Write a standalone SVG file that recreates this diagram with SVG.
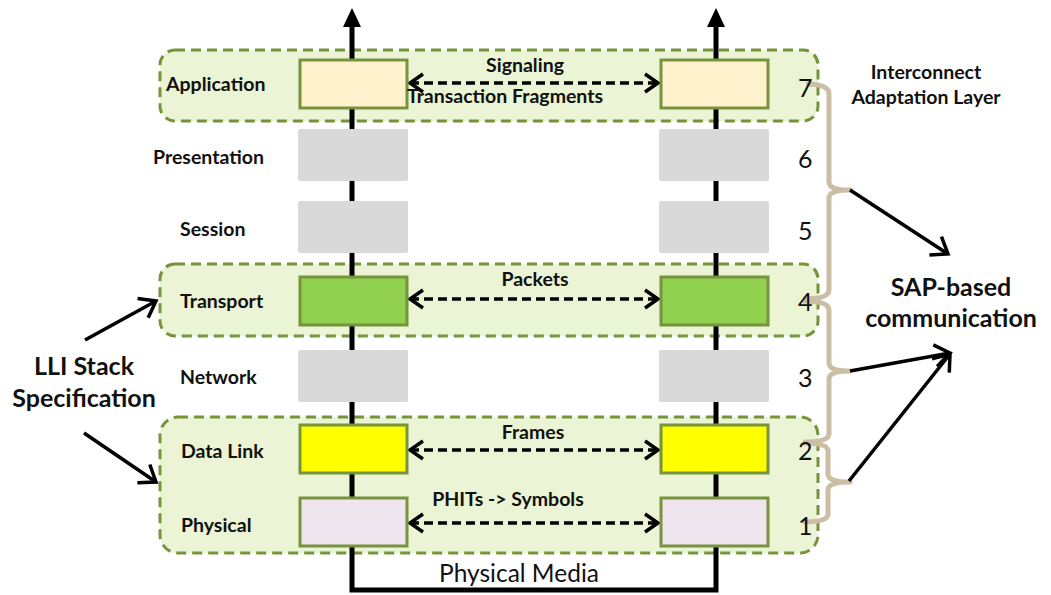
<svg xmlns="http://www.w3.org/2000/svg" width="1051" height="595" viewBox="0 0 1051 595">
  <style>
    .grp { fill: #EBF4D4; stroke: #77933C; stroke-width: 3; stroke-dasharray: 10 6; }
    .box { stroke: #77933C; stroke-width: 3; }
    .gray { fill: #D9D9D9; }
    .axis { stroke: #000; stroke-width: 5; fill: none; }
    .lbl { font-family: Lato, "Open Sans", sans-serif; font-weight: bold; font-size: 19.5px; fill: #111; }
    .num { font-family: Lato, "Open Sans", sans-serif; font-size: 25px; fill: #111; }
    .mid { font-family: Lato, "Open Sans", sans-serif; font-weight: bold; font-size: 19.5px; fill: #111; text-anchor: middle; }
    .big { font-family: Lato, "Open Sans", sans-serif; font-weight: bold; font-size: 25px; fill: #111; text-anchor: middle; }
    .dash { stroke: #000; stroke-width: 3.5; stroke-dasharray: 9 5; fill: none; }
    .solid { stroke: #000; stroke-width: 3.5; fill: none; }
    .brace { stroke: #CCBEA4; stroke-width: 5; fill: none; stroke-linejoin: round; }
  </style>
  <defs>
    <marker id="chev" markerUnits="userSpaceOnUse" viewBox="-18 -14 22 28" refX="0" refY="0" markerWidth="22" markerHeight="28" orient="auto-start-reverse">
      <path d="M-13,-9 L0,0 L-13,9" fill="none" stroke="#000" stroke-width="3.5"/>
    </marker>
    <marker id="chevBig" markerUnits="userSpaceOnUse" viewBox="-20 -16 24 32" refX="0" refY="0" markerWidth="24" markerHeight="32" orient="auto">
      <path d="M-15,-11 L0,0 L-15,11" fill="none" stroke="#000" stroke-width="3.5"/>
    </marker>
  </defs>

  <!-- dashed layer groups -->
  <g id="group-application"><rect class="grp" x="160" y="50" width="658" height="71" rx="15"/></g>
  <g id="group-transport"><rect class="grp" x="160" y="264" width="658" height="72" rx="15"/></g>
  <g id="group-lower"><rect class="grp" x="160" y="417" width="658" height="136" rx="18"/></g>

  <!-- protocol stacks: vertical axes joined by physical media -->
  <g id="connectors">
    <path class="axis" d="M352,24 V590 H716 V24"/>
    <polygon points="352,8 343,27 361,27" fill="#000"/>
    <polygon points="716,8 707,27 725,27" fill="#000"/>

    <!-- peer-to-peer exchanges -->
    <line class="dash" x1="410" y1="83" x2="658" y2="83" marker-start="url(#chev)" marker-end="url(#chev)"/>
    <line class="dash" x1="410" y1="299" x2="658" y2="299" marker-start="url(#chev)" marker-end="url(#chev)"/>
    <line class="dash" x1="410" y1="450" x2="658" y2="450" marker-start="url(#chev)" marker-end="url(#chev)"/>
    <line class="dash" x1="410" y1="523" x2="658" y2="523" marker-start="url(#chev)" marker-end="url(#chev)"/>

    <!-- LLI stack pointers -->
    <line class="solid" x1="85" y1="340" x2="156" y2="301" marker-end="url(#chevBig)"/>
    <line class="solid" x1="84" y1="433" x2="156" y2="482" marker-end="url(#chevBig)"/>

    <!-- braces grouping layers -->
    <path class="brace" d="M806,84 Q829,84 829,94 L829,182 Q829,190 850,190 Q829,190 829,198 L829,290 Q829,299 803,299"/>
    <path class="brace" d="M803,301 Q829,301 829,310 L829,363 Q829,371 850,371 Q829,371 829,379 L829,434 Q829,442 803,442"/>
    <path class="brace" d="M803,443 Q828,443 828,451 L828,474 Q828,482 850,482 Q828,482 828,490 L828,514 Q828,522 803,522"/>

    <!-- SAP pointers -->
    <line class="solid" x1="850" y1="190" x2="948" y2="254" marker-end="url(#chevBig)"/>
    <line class="solid" x1="850" y1="371" x2="950" y2="353" marker-end="url(#chevBig)"/>
    <line class="solid" x1="849" y1="481" x2="950" y2="354" marker-end="url(#chevBig)"/>
  </g>

  <!-- layer boxes, left stack -->
  <g id="app-left"><rect class="box" x="300" y="60" width="107" height="48" fill="#FFF2CC"/></g>
  <g id="pres-left"><rect class="gray" x="298" y="129" width="110" height="52" rx="2"/></g>
  <g id="sess-left"><rect class="gray" x="298" y="201" width="110" height="52" rx="2"/></g>
  <g id="trans-left"><rect class="box" x="300" y="277" width="107" height="48" fill="#92D050"/></g>
  <g id="net-left"><rect class="gray" x="298" y="350" width="110" height="52" rx="2"/></g>
  <g id="dl-left"><rect class="box" x="300" y="425" width="107" height="48" fill="#FFFF00"/></g>
  <g id="phy-left"><rect class="box" x="300" y="498" width="107" height="48" fill="#EFE5EF"/></g>

  <!-- layer boxes, right stack -->
  <g id="app-right"><rect class="box" x="661" y="60" width="107" height="48" fill="#FFF2CC"/></g>
  <g id="pres-right"><rect class="gray" x="659" y="129" width="110" height="52" rx="2"/></g>
  <g id="sess-right"><rect class="gray" x="659" y="201" width="110" height="52" rx="2"/></g>
  <g id="trans-right"><rect class="box" x="661" y="277" width="107" height="48" fill="#92D050"/></g>
  <g id="net-right"><rect class="gray" x="659" y="350" width="110" height="52" rx="2"/></g>
  <g id="dl-right"><rect class="box" x="661" y="425" width="107" height="48" fill="#FFFF00"/></g>
  <g id="phy-right"><rect class="box" x="661" y="498" width="107" height="48" fill="#EFE5EF"/></g>

  <!-- layer names -->
  <g id="layer-names">
    <text class="lbl" x="166" y="91">Application</text>
    <text class="lbl" x="153" y="164">Presentation</text>
    <text class="lbl" x="180" y="236">Session</text>
    <text class="lbl" x="180" y="308">Transport</text>
    <text class="lbl" x="180" y="384">Network</text>
    <text class="lbl" x="181" y="458">Data Link</text>
    <text class="lbl" x="181" y="532">Physical</text>
  </g>

  <!-- layer numbers -->
  <g id="layer-numbers">
    <text class="num" x="798" y="97">7</text>
    <text class="num" x="798" y="168">6</text>
    <text class="num" x="798" y="240">5</text>
    <text class="num" x="798" y="311">4</text>
    <text class="num" x="798" y="387">3</text>
    <text class="num" x="798" y="460">2</text>
    <text class="num" x="798" y="535">1</text>
  </g>

  <!-- exchange labels -->
  <g id="exchange-labels">
    <text class="mid" x="525" y="72">Signaling</text>
    <text class="mid" x="505" y="103">Transaction Fragments</text>
    <text class="mid" x="535" y="286">Packets</text>
    <text class="mid" x="533" y="439">Frames</text>
    <text class="mid" x="508" y="506">PHITs -&gt; Symbols</text>
    <text x="519" y="582" font-family="Lato, 'Open Sans', sans-serif" font-size="24.5" fill="#111" text-anchor="middle">Physical Media</text>
  </g>

  <!-- side captions -->
  <g id="caption-ial">
    <text class="mid" x="926" y="79">Interconnect</text>
    <text class="mid" x="926" y="104">Adaptation Layer</text>
  </g>
  <g id="caption-sap">
    <text class="big" x="951" y="296">SAP-based</text>
    <text class="big" x="951" y="327">communication</text>
  </g>
  <g id="caption-lli">
    <text class="big" x="84" y="375">LLI Stack</text>
    <text class="big" x="84" y="407">Specification</text>
  </g>
</svg>
